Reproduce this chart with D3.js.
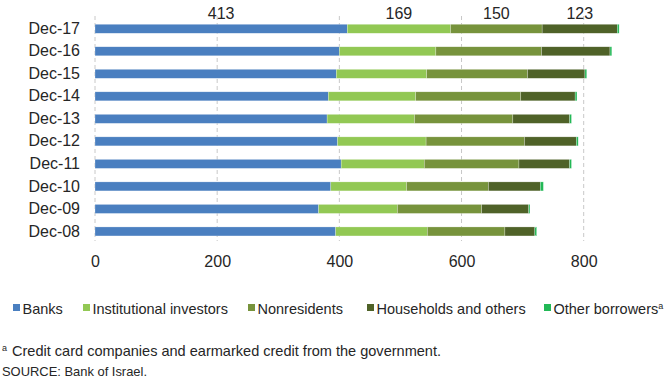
<!DOCTYPE html>
<html>
<head>
<meta charset="utf-8">
<script src="https://cdn.jsdelivr.net/npm/d3@7/dist/d3.min.js"></script>
<style>
  body { margin: 0; background: #fff; }
  text { font-family: "Liberation Sans", Arial, sans-serif; fill: #262626; }
</style>
</head>
<body>
<svg id="chart" width="670" height="382"></svg>
<script>
// Outstanding credit by lender, NIS billion
const categories = ["Dec-17", "Dec-16", "Dec-15", "Dec-14", "Dec-13", "Dec-12", "Dec-11", "Dec-10", "Dec-09", "Dec-08"];
const seriesNames = ["Banks", "Institutional investors", "Nonresidents", "Households and others", "Other borrowers"];
const banks         = [413, 400, 395, 382, 380, 397, 403, 386, 366, 394];
const institutional = [169, 158, 148, 143, 143, 145, 136, 124, 129, 150];
const nonresidents  = [150, 173, 165, 172, 161, 161, 155, 134, 138, 127];
const households    = [123, 112,  94,  89,  93,  85,  83,  85,  77,  49];
const otherBorrowers = [3, 3, 3, 3, 3, 3, 3, 5, 2, 3];
const xTicks = [0, 200, 400, 600, 800];
const colors = ["#4a7fc0", "#92c854", "#77933c", "#4f6228", "#22b856"];

const seriesValues = [banks, institutional, nonresidents, households, otherBorrowers];
const rows = categories.map((c, i) => {
  const r = { cat: c };
  seriesNames.forEach((s, k) => { r[s] = seriesValues[k][i]; });
  return r;
});
const stacked = d3.stack().keys(seriesNames)(rows);

const svg = d3.select("#chart");
const x = d3.scaleLinear().domain([0, 800]).range([95, 583.7]);
const y = d3.scaleBand().domain(categories).range([17.5, 242.7])
  .paddingInner(0.6).paddingOuter(0.3);

// Dashed vertical gridlines
svg.append("g").selectAll("line").data(xTicks).join("line")
  .attr("x1", d => x(d)).attr("x2", d => x(d))
  .attr("y1", 16).attr("y2", 241)
  .attr("stroke", "#c8c8c8").attr("stroke-width", 1)
  .attr("stroke-dasharray", "4,3");

// Stacked bars
svg.append("g").selectAll("g").data(stacked).join("g")
  .attr("fill", (d, i) => colors[i])
  .selectAll("rect").data(d => d).join("rect")
  .attr("x", d => x(d[0]))
  .attr("y", d => y(d.data.cat))
  .attr("width", d => x(d[1]) - x(d[0]))
  .attr("height", y.bandwidth())
  .attr("stroke", "#ffffff").attr("stroke-opacity", 0.5).attr("stroke-width", 0.5);

// Value labels above the latest bar
const latest = categories[0];
svg.append("g").selectAll("text")
  .data(stacked.slice(0, 4).map(s => s.find(d => d.data.cat === latest)))
  .join("text")
  .attr("x", d => (x(d[0]) + x(d[1])) / 2)
  .attr("y", 19)
  .attr("text-anchor", "middle")
  .attr("font-size", 16)
  .text(d => d[1] - d[0]);

// Category axis
const yAxis = svg.append("g").attr("transform", "translate(80,0)")
  .call(d3.axisLeft(y).tickSize(0).tickPadding(0));
yAxis.select(".domain").remove();
yAxis.selectAll("text").attr("font-size", 16).attr("fill", "#262626")
  .attr("font-family", "Liberation Sans, Arial, sans-serif");

// Value axis
const xAxis = svg.append("g").attr("transform", "translate(0,250)")
  .call(d3.axisBottom(x).tickValues(xTicks).tickSize(0).tickPadding(6));
xAxis.select(".domain").remove();
xAxis.selectAll("text").attr("font-size", 16).attr("fill", "#262626")
  .attr("font-family", "Liberation Sans, Arial, sans-serif");

// Legend
const legendX = [13, 83, 248, 367, 544];
const legend = svg.append("g").selectAll("g").data(seriesNames).join("g")
  .attr("transform", (d, i) => `translate(${legendX[i]},304)`);
legend.append("rect").attr("width", 7).attr("height", 7)
  .attr("fill", (d, i) => colors[i]);
const lt = legend.append("text").attr("x", 9.5).attr("y", 9.5)
  .attr("font-size", 14.5);
lt.append("tspan").text(d => d);
lt.filter((d, i) => i === 4).append("tspan")
  .attr("font-size", 9).attr("dy", -5).text("a");

// Footnotes
svg.append("text").attr("x", 2).attr("y", 351).attr("font-size", 9).text("a");
svg.append("text").attr("x", 12).attr("y", 356).attr("font-size", 14.5)
  .attr("textLength", 429).attr("lengthAdjust", "spacingAndGlyphs")
  .text("Credit card companies and earmarked credit from the government.");
svg.append("text").attr("x", 2).attr("y", 376).attr("font-size", 13.5)
  .attr("textLength", 145).attr("lengthAdjust", "spacingAndGlyphs")
  .text("SOURCE: Bank of Israel.");
</script>
</body>
</html>
